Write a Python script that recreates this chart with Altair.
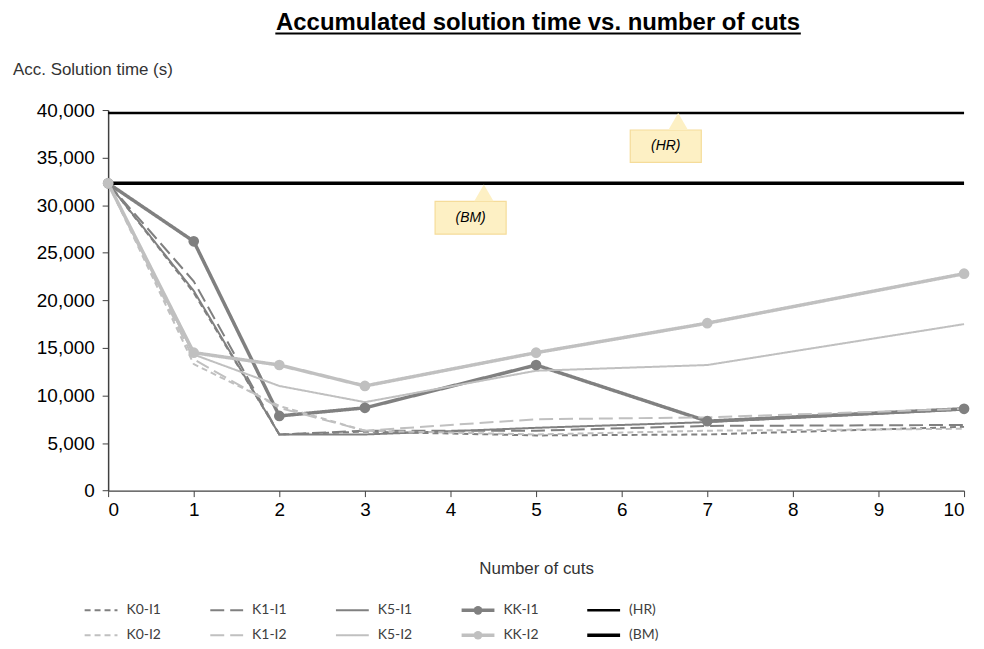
import altair as alt
import pandas as pd

# ---------------- data ----------------
cuts = [0, 1, 2, 3, 5, 7, 10]
series_names = ["K0-I1", "K1-I1", "K5-I1", "KK-I1", "K0-I2", "K1-I2", "K5-I2", "KK-I2"]
k0_i1 = [32300, 20800, 5900, 6200, 5800, 5900, 6700]
k1_i1 = [32300, 22000, 5900, 6300, 6300, 6800, 6900]
k5_i1 = [32300, 21000, 5900, 5900, 6600, 7200, 8500]
kk_i1 = [32300, 26200, 7850, 8700, 13200, 7300, 8600]
k0_i2 = [32300, 13300, 8900, 6300, 5900, 6300, 6500]
k1_i2 = [32300, 13800, 8700, 6300, 7500, 7700, 8600]
k5_i2 = [32300, 14300, 11000, 9300, 12600, 13200, 17500]
kk_i2 = [32300, 14500, 13200, 11000, 14500, 17600, 22800]
series_values = [k0_i1, k1_i1, k5_i1, kk_i1, k0_i2, k1_i2, k5_i2, kk_i2]

ref_names = ["(HR)", "(BM)"]
ref_values = [39700, 32300]

# callout boxes (annotation anchors in data units)
callout_labels = ["(HR)", "(BM)"]
callout_x = [6.10, 3.82]
callout_x2 = [6.93, 4.65]
callout_top = [37900, 30400]
callout_bottom = [34500, 26950]
pointer_x = [6.66, 4.39]
pointer_y = [38800, 31300]

legend_order = ["K0-I1", "K1-I1", "K5-I1", "KK-I1", "(HR)",
                "K0-I2", "K1-I2", "K5-I2", "KK-I2", "(BM)"]

title_text = "Accumulated solution time vs. number of cuts"
y_ticks = list(range(0, 40001, 5000))
x_ticks = list(range(0, 11))

# ---------------- tables ----------------
rows = []
for name, vals in zip(series_names, series_values):
    for c, v in zip(cuts, vals):
        rows.append({"series": name, "cuts": c, "time": v})
df = pd.DataFrame(rows)

ref_df = pd.DataFrame({"series": ref_names, "y": ref_values, "x0": [0, 0], "x1": [10, 10]})
call_df = pd.DataFrame({
    "label": callout_labels, "x": callout_x, "x2": callout_x2,
    "top": callout_top, "bottom": callout_bottom,
    "px": pointer_x, "py": pointer_y,
    "cx": [(a + b) / 2 for a, b in zip(callout_x, callout_x2)],
    "cy": [(a + b) / 2 for a, b in zip(callout_top, callout_bottom)],
})
leg_df = pd.DataFrame({
    "series": legend_order,
    "col": [i % 5 for i in range(len(legend_order))],
    "row": [i // 5 for i in range(len(legend_order))],
})

# ---------------- styles ----------------
DARK = "#808080"
LIGHT = "#c0c0c0"
FONT = "Liberation Sans"

color_scale = alt.Scale(
    domain=legend_order,
    range=[DARK, DARK, DARK, DARK, "#000000", LIGHT, LIGHT, LIGHT, LIGHT, "#000000"],
)
dash_scale = alt.Scale(
    domain=legend_order,
    range=[[6, 4], [14, 6], [1, 0], [1, 0], [1, 0],
           [6, 4], [14, 6], [1, 0], [1, 0], [1, 0]],
)
# line width chosen per series by expression (style, not data)
LW_EXPR = ("indexof(['KK-I1','KK-I2','(BM)'], datum.series) >= 0 ? 3.5 : "
           "(datum.series == '(HR)' ? 2.5 : 2)")

xs = alt.Scale(domain=[0, 10], nice=False)
ys = alt.Scale(domain=[0, 40000], nice=False)

x_axis = alt.Axis(
    values=x_ticks, format="d", grid=False, labelFontSize=19, labelFont=FONT,
    labelColor="#000000", labelPadding=4, tickSize=6, tickColor="#404040",
    domainColor="#404040", domainWidth=1.5, title="Number of cuts", titleFont=FONT,
    titleFontSize=17, titleFontWeight="normal", titleColor="#333333",
    titleY=78, titleBaseline="middle",
)
y_axis = alt.Axis(
    values=y_ticks, format=",d", grid=False, labelFontSize=19, labelFont=FONT,
    labelColor="#000000", labelPadding=8, tickSize=6, tickColor="#404040",
    domainColor="#404040", domainWidth=1.5, title="Acc. Solution time (s)",
    titleFont=FONT, titleFontSize=17, titleFontWeight="normal", titleColor="#333333",
    titleAngle=0, titleAlign="left", titleBaseline="middle", titleX=-96, titleY=-41,
)

# ---------------- main layers ----------------
ref_lines = alt.Chart(ref_df).transform_calculate(lw=LW_EXPR).mark_rule().encode(
    x=alt.X("x0:Q", scale=xs, axis=x_axis),
    x2="x1:Q",
    y=alt.Y("y:Q", scale=ys, axis=y_axis),
    color=alt.Color("series:N", scale=color_scale, legend=None),
    strokeWidth=alt.StrokeWidth("lw:Q", scale=None, legend=None),
)

lines = alt.Chart(df).transform_calculate(lw=LW_EXPR).mark_line().encode(
    x=alt.X("cuts:Q", scale=xs),
    y=alt.Y("time:Q", scale=ys),
    color=alt.Color("series:N", scale=color_scale, legend=None),
    strokeDash=alt.StrokeDash("series:N", scale=dash_scale, legend=None),
    strokeWidth=alt.StrokeWidth("lw:Q", scale=None, legend=None),
    detail="series:N",
)

markers = alt.Chart(df).transform_filter(
    alt.FieldOneOfPredicate(field="series", oneOf=["KK-I1", "KK-I2"])
).mark_circle(size=115, opacity=1).encode(
    x=alt.X("cuts:Q", scale=xs),
    y=alt.Y("time:Q", scale=ys),
    color=alt.Color("series:N", scale=color_scale, legend=None),
)

boxes = alt.Chart(call_df).mark_rect(fill="#fdf0c4", stroke="#f5dc9a", strokeWidth=1.2).encode(
    x=alt.X("x:Q", scale=xs), x2="x2:Q",
    y=alt.Y("top:Q", scale=ys), y2="bottom:Q",
)
pointers = alt.Chart(call_df).mark_point(
    shape="triangle-up", filled=True, size=380, fill="#fdf0c4", opacity=1, strokeWidth=0
).encode(
    x=alt.X("px:Q", scale=xs),
    y=alt.Y("py:Q", scale=ys),
)
call_text = alt.Chart(call_df).mark_text(
    font=FONT, fontSize=14, fontStyle="italic", color="#000000", baseline="middle"
).encode(
    x=alt.X("cx:Q", scale=xs),
    y=alt.Y("cy:Q", scale=ys),
    text="label:N",
)

title_mark = alt.Chart(pd.DataFrame({"t": [title_text]})).mark_text(
    font=FONT, fontSize=24, fontWeight="bold", color="#000000",
    align="center", baseline="alphabetic"
).encode(x=alt.value(432), y=alt.value(-80), text="t:N")

underline = alt.Chart(pd.DataFrame({"t": [title_text]})).mark_rule(
    color="#000000", strokeWidth=2
).encode(x=alt.value(168), x2=alt.value(696), y=alt.value(-77))

main = alt.layer(ref_lines, lines, markers, boxes, pointers, call_text, title_mark, underline)

# ---------------- legend layers ----------------
lx = alt.Scale(domain=[0, 4], range=[-23.6, 481.4])
ly = alt.Scale(domain=[0, 1], range=[502.7, 527.7])

leg_lines = alt.Chart(leg_df).transform_calculate(lw=LW_EXPR).mark_rule(x2Offset=33).encode(
    x=alt.X("col:Q", scale=lx, axis=None),
    x2="col:Q",
    y=alt.Y("row:Q", scale=ly, axis=None),
    color=alt.Color("series:N", scale=color_scale, legend=None),
    strokeDash=alt.StrokeDash("series:N", scale=dash_scale, legend=None),
    strokeWidth=alt.StrokeWidth("lw:Q", scale=None, legend=None),
)
leg_marks = alt.Chart(leg_df).transform_filter(
    alt.FieldOneOfPredicate(field="series", oneOf=["KK-I1", "KK-I2"])
).mark_circle(size=75, opacity=1, xOffset=16.5).encode(
    x=alt.X("col:Q", scale=lx, axis=None),
    y=alt.Y("row:Q", scale=ly, axis=None),
    color=alt.Color("series:N", scale=color_scale, legend=None),
)
leg_text = alt.Chart(leg_df).mark_text(
    font="Lato", fontSize=14, color="#404040", align="left", baseline="middle", dx=42
).encode(
    x=alt.X("col:Q", scale=lx, axis=None),
    y=alt.Y("row:Q", scale=ly, axis=None),
    text="series:N",
)
legend = alt.layer(leg_lines, leg_marks, leg_text)

chart = alt.layer(main, legend).resolve_scale(x="independent", y="independent").properties(
    width=860, height=382.4,
    padding={"left": 4.6, "top": 2, "right": 5, "bottom": 5},
    background="#ffffff",
).configure_view(stroke=None)

chart.save("out.html", embed_options={"renderer": "svg", "actions": False})
